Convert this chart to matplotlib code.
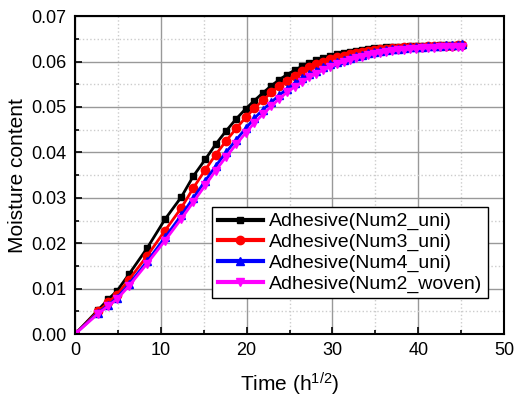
import numpy as np
import matplotlib
matplotlib.use('Agg')
import matplotlib.pyplot as plt
from matplotlib.ticker import MultipleLocator, FormatStrFormatter

plt.rcParams['font.family'] = ['Liberation Sans', 'DejaVu Sans']
plt.rcParams['mathtext.fontset'] = 'custom'
plt.rcParams['mathtext.rm'] = 'Liberation Sans'
plt.rcParams['mathtext.it'] = 'Liberation Sans:italic'

# time (sqrt hours)
t = [0, 2.7, 3.9, 4.9, 6.3, 8.4, 10.5, 12.4, 13.8, 15.2, 16.4, 17.6, 18.8, 19.9,
     20.9, 21.9, 22.9, 23.8, 24.7, 25.6, 26.5, 27.3, 28.1, 28.9, 29.7, 30.5, 31.3,
     32.0, 32.7, 33.4, 34.1, 34.8, 35.5, 36.2, 36.9, 37.6, 38.3, 39.0, 39.7, 40.4,
     41.1, 41.8, 42.5, 43.2, 43.9, 44.6, 45.1]

num2_uni = [0, .0053, .0077, .0095, .0132, .0189, .0253, .0302, .0348, .0385, .0418, .0447,
            .0474, .0496, .0514, .0531, .0547, .0560, .0571, .0581, .0590, .0597, .0603,
            .0608, .0612, .0616, .0619, .0622, .0624, .0626, .0628, .0629, .0630, .0631,
            .0632, .0633, .0633, .0634, .0634, .0635, .0635, .0635, .0636, .0636, .0636,
            .0637, .0637]
num3_uni = [0, .0050, .0070, .0087, .0120, .0172, .0228, .0278, .0322, .0362, .0395, .0425,
            .0453, .0477, .0497, .0515, .0532, .0546, .0558, .0569, .0579, .0587, .0594,
            .0600, .0605, .0609, .0613, .0616, .0619, .0621, .0623, .0625, .0627, .0628,
            .0629, .0630, .0631, .0632, .0633, .0633, .0634, .0634, .0635, .0635, .0635,
            .0636, .0636]
num4_uni = [0, .0047, .0064, .0080, .0110, .0160, .0213, .0262, .0300, .0338, .0370, .0400,
            .0428, .0453, .0475, .0494, .0511, .0526, .0540, .0552, .0563, .0572, .0580,
            .0587, .0594, .0599, .0604, .0608, .0612, .0615, .0618, .0621, .0623, .0625,
            .0627, .0628, .0630, .0631, .0632, .0633, .0634, .0634, .0635, .0636, .0636,
            .0637, .0638]
num2_woven = [0, .0045, .0062, .0077, .0106, .0155, .0206, .0254, .0291, .0328, .0360, .0390,
              .0418, .0443, .0465, .0484, .0502, .0518, .0532, .0544, .0555, .0565, .0573,
              .0581, .0588, .0594, .0599, .0603, .0607, .0611, .0614, .0617, .0619, .0621,
              .0623, .0625, .0626, .0627, .0628, .0629, .0630, .0630, .0631, .0631, .0632,
              .0632, .0632]

fig = plt.figure(figsize=(5.17, 4.03), dpi=100)
ax = fig.add_axes([0.145, 0.171, 0.830, 0.789])

ax.plot(t, num2_uni, '-s', color='black', lw=2, ms=5, label='Adhesive(Num2_uni)')
ax.plot(t, num3_uni, '-o', color='red', lw=2, ms=6, label='Adhesive(Num3_uni)')
ax.plot(t, num4_uni, '-^', color='blue', lw=2, ms=6, label='Adhesive(Num4_uni)')
ax.plot(t, num2_woven, '-v', color='magenta', lw=2, ms=6, label='Adhesive(Num2_woven)')

ax.set_xlim(0, 50)
ax.set_ylim(0, 0.07)
ax.xaxis.set_major_locator(MultipleLocator(10))
ax.xaxis.set_minor_locator(MultipleLocator(5))
ax.yaxis.set_major_locator(MultipleLocator(0.01))
ax.yaxis.set_minor_locator(MultipleLocator(0.005))
ax.yaxis.set_major_formatter(FormatStrFormatter('%.2f'))

ax.grid(which='major', color='#999999', linestyle='-', linewidth=1)
ax.grid(which='minor', color='#cccccc', linestyle=':', linewidth=1)
ax.set_axisbelow(True)

ax.tick_params(axis='both', which='major', direction='in', length=5, width=1.2,
               labelsize=13, pad=6)
ax.tick_params(axis='both', which='minor', direction='in', length=3, width=1.2)
for s in ax.spines.values():
    s.set_linewidth(1.5)

ax.set_xlabel('Time (h$^{1/2}$)', fontsize=15, labelpad=8)
ax.set_ylabel('Moisture content', fontsize=15, labelpad=3)

leg = ax.legend(loc='lower right', bbox_to_anchor=(0.962, 0.112), fontsize=14,
                fancybox=False, framealpha=1, edgecolor='black',
                handlelength=2.3, borderpad=0.3, labelspacing=0.15, handletextpad=0.3,
                borderaxespad=0)
leg.get_frame().set_linewidth(1)
for h in leg.legend_handles:
    h.set_linewidth(3)

fig.savefig('out.png', dpi=100)
